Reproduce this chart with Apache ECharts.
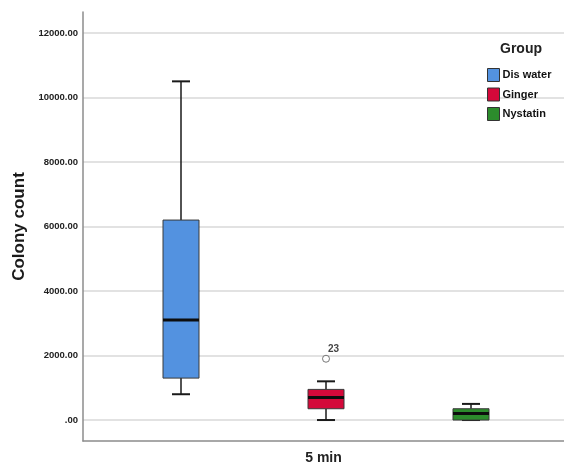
<!DOCTYPE html>
<html>
<head>
<meta charset="utf-8">
<script src="https://cdn.jsdelivr.net/npm/echarts@6/dist/echarts.min.js"></script>
<style>
  html, body { margin: 0; padding: 0; background: #ffffff; }
  #chart { width: 564px; height: 465px; }
</style>
</head>
<body>
<div id="chart"></div>
<script>
// Colony counts after 5 min, summarised per treatment group
const timePoint = ['5 min'];
const groups = ['Dis water', 'Ginger', 'Nystatin'];
const groupColors = ['#5392E0', '#D4093A', '#2C8C2C'];

// five-number summaries (whisker low, Q1, median, Q3, whisker high)
const whiskerLow = [800, 0, 0];
const quartile1 = [1300, 350, 0];
const medians = [3100, 700, 200];
const quartile3 = [6200, 950, 350];
const whiskerHigh = [10500, 1200, 500];

// outlying case
const outlierGroup = ['Ginger'];
const outlierValue = [1900];
const outlierCase = ['23'];

// value-axis tick labels
const yTicks = [0, 2000, 4000, 6000, 8000, 10000, 12000];

const Y_MIN = -650, Y_MAX = 12650;
const FONT = 'Liberation Sans, Arial, sans-serif';

function renderBox(params, api) {
  const idx = api.value(0);
  const x = api.coord([idx, 0])[0];
  const yLo = api.coord([idx, api.value(1)])[1];
  const yQ1 = api.coord([idx, api.value(2)])[1];
  const yMed = api.coord([idx, api.value(3)])[1];
  const yQ3 = api.coord([idx, api.value(4)])[1];
  const yHi = api.coord([idx, api.value(5)])[1];
  const half = 18, cap = 9;
  const color = api.visual('color');
  const line = { stroke: '#1a1a1a', lineWidth: 1.5 };
  return {
    type: 'group',
    children: [
      { type: 'line', shape: { x1: x, y1: yHi, x2: x, y2: yQ3 }, style: line },
      { type: 'line', shape: { x1: x, y1: yQ1, x2: x, y2: yLo }, style: line },
      { type: 'line', shape: { x1: x - cap, y1: yHi, x2: x + cap, y2: yHi }, style: { stroke: '#1a1a1a', lineWidth: 2 } },
      { type: 'line', shape: { x1: x - cap, y1: yLo, x2: x + cap, y2: yLo }, style: { stroke: '#1a1a1a', lineWidth: 2 } },
      { type: 'rect', shape: { x: x - half, y: yQ3, width: half * 2, height: Math.max(yQ1 - yQ3, 1) },
        style: { fill: color, stroke: '#3a3a3a', lineWidth: 1 } },
      { type: 'line', shape: { x1: x - half, y1: yMed, x2: x + half, y2: yMed }, style: { stroke: '#0d0d0d', lineWidth: 3 } }
    ]
  };
}

const boxSeries = groups.map(function (name, i) {
  return {
    name: name,
    type: 'custom',
    xAxisIndex: 1,
    yAxisIndex: 1,
    renderItem: renderBox,
    itemStyle: { color: groupColors[i], borderColor: '#333', borderWidth: 1 },
    encode: { x: 0, y: [1, 2, 3, 4, 5] },
    data: [[i, whiskerLow[i], quartile1[i], medians[i], quartile3[i], whiskerHigh[i]]],
    z: 3
  };
});

const chart = echarts.init(document.getElementById('chart'), null, { renderer: 'canvas' });

chart.setOption({
  backgroundColor: '#ffffff',
  animation: false,
  title: {
    text: 'Group',
    left: 500,
    top: 42,
    padding: 0,
    textStyle: { fontFamily: FONT, fontSize: 14, fontWeight: 'bold', color: '#222' }
  },
  legend: {
    data: groups,
    orient: 'vertical',
    left: 487,
    top: 68,
    padding: 0,
    itemWidth: 12,
    itemHeight: 13,
    itemGap: 5.5,
    icon: 'rect',
    itemStyle: { borderColor: '#333', borderWidth: 1 },
    textStyle: { fontFamily: FONT, fontSize: 11, fontWeight: 'bold', color: '#111', padding: [0, 0, 0, -2] }
  },
  grid: [
    { left: 83, right: 0, top: 12, bottom: 24 },
    { left: 108.5, width: 435, top: 12, bottom: 24 }
  ],
  xAxis: [
    {
      type: 'category',
      gridIndex: 0,
      data: timePoint,
      axisLine: { onZero: false, lineStyle: { color: '#8c8c8c', width: 1.5 } },
      axisTick: { show: false },
      axisLabel: { fontFamily: FONT, fontSize: 14, fontWeight: 'bold', color: '#222', margin: 10 }
    },
    {
      type: 'category',
      gridIndex: 1,
      data: groups,
      show: false
    }
  ],
  yAxis: [
    {
      type: 'value',
      gridIndex: 0,
      min: Y_MIN,
      max: Y_MAX,
      splitNumber: 7,
      name: 'Colony count',
      nameLocation: 'middle',
      nameGap: 54,
      nameTextStyle: { fontFamily: FONT, fontSize: 17, fontWeight: 'bold', color: '#1a1a1a' },
      axisLine: { show: true, lineStyle: { color: '#8c8c8c', width: 1.5 } },
      axisTick: { show: false },
      axisLabel: {
        fontFamily: FONT,
        fontSize: 9.5,
        fontWeight: 'bold',
        color: '#222',
        margin: 5,
        showMinLabel: false,
        showMaxLabel: false,
        formatter: function (v) {
          if (yTicks.indexOf(v) < 0) return '';
          return v === 0 ? '.00' : v.toFixed(2);
        }
      },
      splitLine: {
        show: true,
        showMinLine: false,
        showMaxLine: false,
        lineStyle: { color: '#d9d9d9', width: 1.5 }
      }
    },
    {
      type: 'value',
      gridIndex: 1,
      min: Y_MIN,
      max: Y_MAX,
      show: false,
      splitLine: { show: false }
    }
  ],
  series: boxSeries.concat([
    {
      name: 'outliers',
      type: 'scatter',
      xAxisIndex: 1,
      yAxisIndex: 1,
      symbol: 'circle',
      symbolSize: 7,
      itemStyle: { color: '#ffffff', borderColor: '#555555', borderWidth: 1 },
      label: {
        show: true,
        position: [6, -10],
        formatter: function (p) { return outlierCase[p.dataIndex]; },
        fontFamily: FONT,
        fontSize: 10,
        fontWeight: 'bold',
        color: '#111'
      },
      data: outlierGroup.map(function (g, i) { return [g, outlierValue[i]]; }),
      z: 4
    }
  ])
});
</script>
</body>
</html>
